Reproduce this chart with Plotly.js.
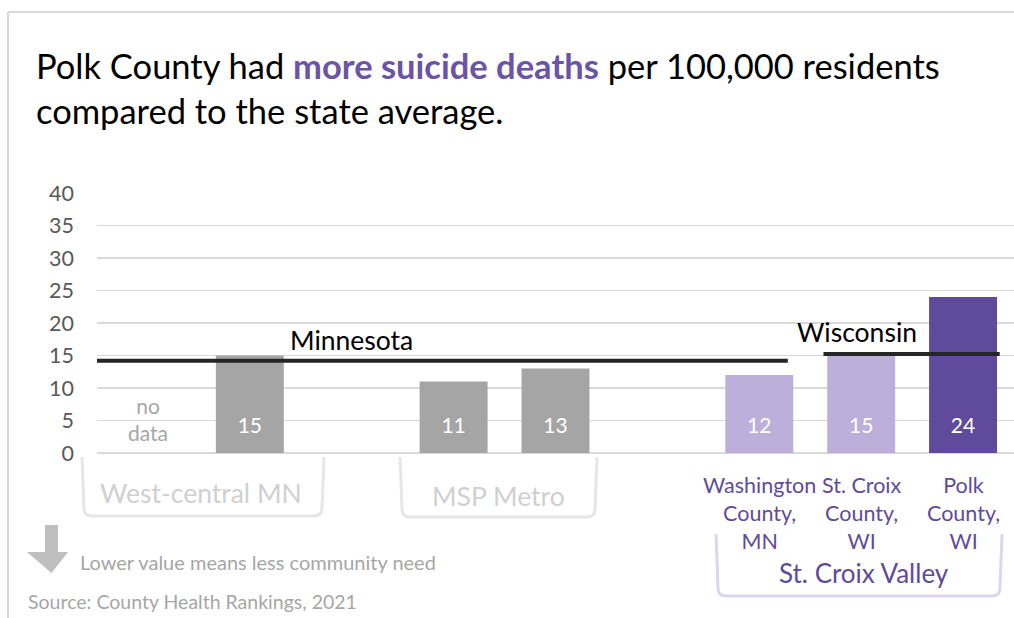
<!DOCTYPE html>
<html>
<head>
<meta charset="utf-8">
<script src="https://cdn.plot.ly/plotly-3.0.1.min.js"></script>
<style>
  html, body { margin: 0; padding: 0; background: #fff; }
  #chart { width: 1014px; height: 618px; }
</style>
</head>
<body>
<div id="chart"></div>
<script>
// Data
const categories = ['West-central MN 1', 'West-central MN 2', ' ', 'MSP Metro 1', 'MSP Metro 2', '  ',
                    'Washington County, MN', 'St. Croix County, WI', 'Polk County, WI'];
const values = [null, 15, null, 11, 13, null, 12, 15, 24];
const countyLabels = ['Washington<br>County,<br>MN', 'St. Croix<br>County,<br>WI', 'Polk<br>County,<br>WI'];
const groupNames = ['West-central MN', 'MSP Metro', 'St. Croix Valley'];
const stateNames = ['Minnesota', 'Wisconsin'];
const stateAvg = [14.2, 15.25];
const yTicks = [0, 5, 10, 15, 20, 25, 30, 35, 40];

// Colours
const GRAY = '#a5a5a5';
const LAV = '#bcb0da';
const PURPLE = '#5f4a9b';
const TXTPURPLE = '#5f4a9b';
const barColors = [GRAY, GRAY, GRAY, GRAY, GRAY, GRAY, LAV, LAV, PURPLE];
const FONT = 'Lato, "Open Sans", sans-serif';

// plot area in pixels
const L = 97, R = 0, T = 193, B = 165, W = 1014, H = 618;
const pw = W - L - R, ph = H - T - B;
const px = x => (x - L) / pw;
const py = y => (H - B - y) / ph;

const bars = {
  type: 'bar',
  x: categories,
  y: values,
  marker: { color: barColors },
  hoverinfo: 'skip'
};

const labelTrace = {
  type: 'scatter',
  mode: 'text',
  x: categories.filter((c, i) => values[i] !== null),
  y: values.filter(v => v !== null).map(() => 3.9),
  text: values.filter(v => v !== null).map(String),
  textfont: { color: '#ffffff', size: 21, family: FONT },
  hoverinfo: 'skip',
  cliponaxis: false
};

// lines for state averages
const shapes = [
  { type: 'line', xref: 'x', yref: 'y', x0: -0.5, x1: 6.28, y0: stateAvg[0], y1: stateAvg[0],
    line: { color: '#262626', width: 4 } },
  { type: 'line', xref: 'x', yref: 'y', x0: 6.63, x1: 8.36, y0: stateAvg[1], y1: stateAvg[1],
    line: { color: '#262626', width: 4 } },
  // outer frame
  { type: 'line', xref: 'paper', yref: 'paper', x0: px(8), x1: px(1014), y0: py(12), y1: py(12),
    line: { color: '#d9d9d9', width: 2 } },
  { type: 'line', xref: 'paper', yref: 'paper', x0: px(8), x1: px(8), y0: py(12), y1: py(618),
    line: { color: '#d9d9d9', width: 2 } }
];

function bracket(x0, x1, yTop, yBot, color) {
  const r = 8;
  return {
    type: 'path', xref: 'paper', yref: 'paper',
    path: `M ${px(x0)},${py(yTop)} L ${px(x0 + 2)},${py(yBot - r)} Q ${px(x0 + 2)},${py(yBot)} ${px(x0 + 2 + r)},${py(yBot)}` +
          ` L ${px(x1 - 2 - r)},${py(yBot)} Q ${px(x1 - 2)},${py(yBot)} ${px(x1 - 2)},${py(yBot - r)} L ${px(x1)},${py(yTop)}`,
    line: { color: color, width: 3 }
  };
}
shapes.push(bracket(82, 324, 457, 516, '#e6e6e6'));
shapes.push(bracket(400, 597, 457, 517, '#e6e6e6'));
shapes.push(bracket(716, 1002, 534, 596, '#dcd6ec'));

// down arrow
shapes.push({
  type: 'path', xref: 'paper', yref: 'paper',
  path: `M ${px(45)},${py(525)} L ${px(58)},${py(525)} L ${px(58)},${py(552)} L ${px(68)},${py(552)}` +
        ` L ${px(51.5)},${py(573)} L ${px(27)},${py(552)} L ${px(45)},${py(552)} Z`,
  fillcolor: '#bfbfbf', line: { width: 0 }
});

const annotations = [
  {
    xref: 'paper', yref: 'paper', x: px(34), y: py(88), xanchor: 'left', yanchor: 'middle', align: 'left',
    text: 'Polk County had <b><span style="color:#6b54a5">more suicide deaths</span></b> per 100,000 residents<br>compared to the state average.',
    showarrow: false, font: { size: 34.5, color: '#000', family: FONT }
  },
  { xref: 'x', yref: 'y', x: 0, y: 5.2, xanchor: 'center', yanchor: 'middle', text: 'no<br>data', showarrow: false,
    font: { size: 21, color: '#a6a6a6', family: FONT } },
  { xref: 'x', yref: 'y', x: 2.0, y: stateAvg[0] + 0.45, xanchor: 'center', yanchor: 'bottom', text: stateNames[0], showarrow: false,
    font: { size: 26.5, color: '#000', family: FONT } },
  { xref: 'x', yref: 'y', x: 6.96, y: stateAvg[1] + 0.55, xanchor: 'center', yanchor: 'bottom', text: stateNames[1], showarrow: false,
    font: { size: 26.5, color: '#000', family: FONT } },
  { xref: 'paper', yref: 'paper', x: px(201), y: py(493), xanchor: 'center', yanchor: 'middle', text: groupNames[0], showarrow: false,
    font: { size: 26.5, color: '#d0d0d0', family: FONT } },
  { xref: 'paper', yref: 'paper', x: px(498), y: py(496), xanchor: 'center', yanchor: 'middle', text: groupNames[1], showarrow: false,
    font: { size: 26.5, color: '#d0d0d0', family: FONT } },
  { xref: 'paper', yref: 'paper', x: px(864), y: py(573), xanchor: 'center', yanchor: 'middle', text: groupNames[2], showarrow: false,
    font: { size: 26, color: TXTPURPLE, family: FONT } },
  { xref: 'paper', yref: 'paper', x: px(78), y: py(562), xanchor: 'left', yanchor: 'middle', text: 'Lower value means less community need',
    showarrow: false, font: { size: 20, color: '#a6a6a6', family: FONT } },
  { xref: 'paper', yref: 'paper', x: px(26), y: py(601), xanchor: 'left', yanchor: 'middle', text: 'Source: County Health Rankings, 2021',
    showarrow: false, font: { size: 19.5, color: '#a6a6a6', family: FONT } }
];

countyLabels.forEach((t, i) => {
  annotations.push({
    xref: 'x', yref: 'paper', x: categories[6 + i], y: py(470), xanchor: 'center', yanchor: 'top', text: t, showarrow: false,
    font: { size: 21.5, color: TXTPURPLE, family: FONT }
  });
});

const layout = {
  width: W, height: H,
  margin: { l: L, r: R, t: T, b: B, pad: 0 },
  paper_bgcolor: '#fff', plot_bgcolor: '#fff',
  showlegend: false,
  bargap: 0.333,
  font: { family: FONT },
  xaxis: { type: 'category', showticklabels: false, showgrid: false, zeroline: false, showline: false,
           ticks: '', range: [-0.5, 8.5], fixedrange: true },
  yaxis: { range: [0, 40], tickvals: yTicks, showgrid: true, gridcolor: '#d9d9d9', gridwidth: 1.5,
           zeroline: true, zerolinecolor: '#d9d9d9', zerolinewidth: 1.5, showline: false,
           ticks: '', tickfont: { size: 21.5, color: '#595959', family: FONT }, ticklabelstandoff: 22, fixedrange: true },
  shapes: shapes,
  annotations: annotations
};

Plotly.newPlot('chart', [bars, labelTrace], layout, { displayModeBar: false, staticPlot: true });
</script>
</body>
</html>
